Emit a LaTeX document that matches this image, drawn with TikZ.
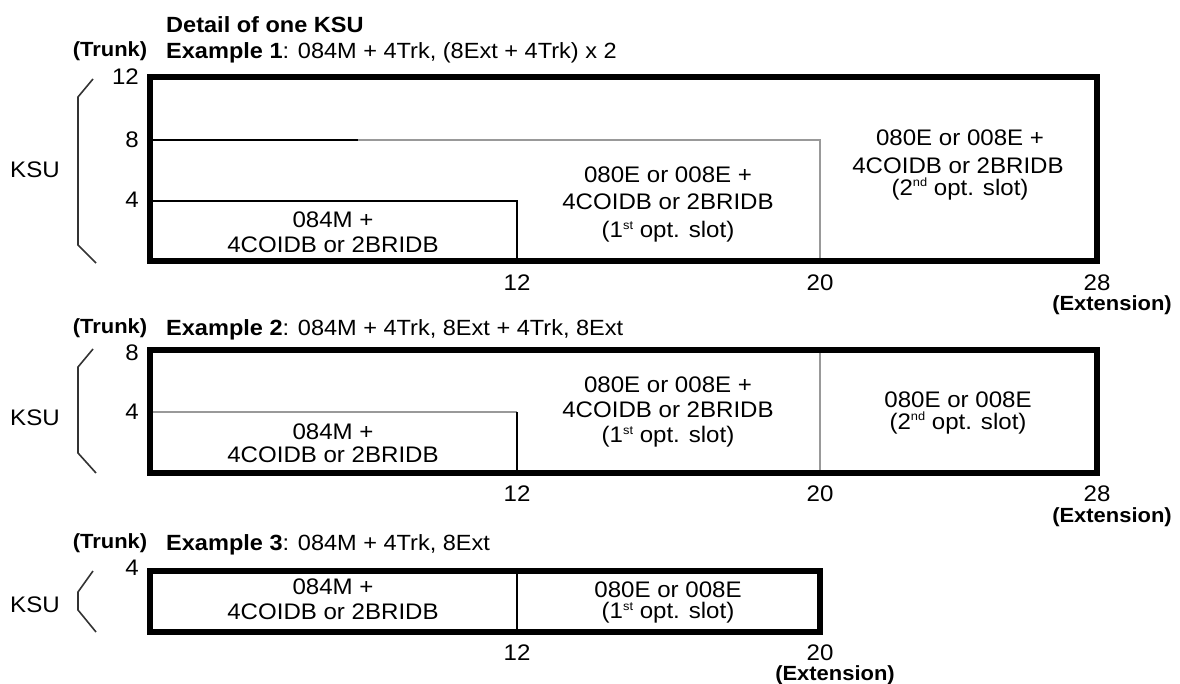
\documentclass[tikz,border=0pt]{standalone}
\usepackage{fontspec}
\setmainfont[FakeStretch=1.07]{Liberation Sans}

\newcommand{\upidx}[1]{\raisebox{0.36em}{\fontsize{12}{12}\selectfont #1}}

\tikzset{
  frame/.style={line width=5.5pt},
  cell/.style={line width=1.4pt},
  cellgrey/.style={line width=1.6pt, draw=black!40},
  brace/.style={line width=1.6pt, draw=black!80},
  txt/.style={inner sep=0pt, font=\fontsize{22.5}{26}\selectfont},
  bold/.style={inner sep=0pt, font=\fontsize{20.5}{24}\selectfont\bfseries},
  headline/.style={inner sep=0pt, anchor=west, font=\fontsize{22}{26}\selectfont},
}

\begin{document}
\begin{tikzpicture}[x=1pt, y=-1pt]
  \useasboundingbox (0,0) rectangle (1180,684);

  \node[headline, font=\fontsize{22}{26}\selectfont\bfseries] (title) at (166, 25) {Detail of one KSU};

  \node[bold] (trunk1) at (110, 51) {(Trunk)};
  \node[headline] (ex1) at (166, 53) {\textbf{Example 1}: 084M + 4Trk, (8Ext + 4Trk) x 2};
  \node[txt, anchor=east] (y12a) at (139, 77) {12};
  \node[txt, anchor=east] (y8a) at (139, 140) {8};
  \node[txt, anchor=east] (y4a) at (139, 200) {4};
  \node[txt] (ksu1) at (35, 170) {KSU};
  \draw[brace] (93, 79) -- (78, 97) -- (78, 245) -- (96, 263);

  \draw[cell] (150, 140) -- (358, 140);
  \draw[cellgrey] (358, 140) -- (820, 140) -- (820, 261);
  \draw[cell] (150, 201) -- (517, 201) -- (517, 261);
  \draw[frame] (150, 77) rectangle (1097, 261);

  \node[txt] (m1a) at (333, 220) {084M +};
  \node[txt] (m1b) at (333, 245) {4COIDB or 2BRIDB};
  \node[txt] (s1a) at (668, 175) {080E or 008E +};
  \node[txt] (s1b) at (668, 202) {4COIDB or 2BRIDB};
  \node[txt] (s1c) at (668, 232) {(1\upidx{st} opt. slot)};
  \node[txt] (r1a) at (960, 138) {080E or 008E +};
  \node[txt] (r1b) at (958, 166) {4COIDB or 2BRIDB};
  \node[txt] (r1c) at (960, 189) {(2\upidx{nd} opt. slot)};

  \node[txt] (x12a) at (517, 283) {12};
  \node[txt] (x20a) at (820, 283) {20};
  \node[txt] (x28a) at (1097, 283) {28};
  \node[bold] (ext1) at (1112, 305) {(Extension)};

  \node[bold] (trunk2) at (110, 328) {(Trunk)};
  \node[headline] (ex2) at (166, 330) {\textbf{Example 2}: 084M + 4Trk, 8Ext + 4Trk, 8Ext};
  \node[txt, anchor=east] (y8b) at (139, 353) {8};
  \node[txt, anchor=east] (y4b) at (139, 412) {4};
  \node[txt] (ksu2) at (35, 418) {KSU};
  \draw[brace] (93, 349) -- (78, 367) -- (78, 453) -- (96, 473);

  \draw[cellgrey] (150, 412) -- (517, 412);
  \draw[cell] (517, 412) -- (517, 473);
  \draw[cellgrey] (820, 350) -- (820, 473);
  \draw[frame] (150, 350) rectangle (1097, 473);

  \node[txt] (m2a) at (333, 432) {084M +};
  \node[txt] (m2b) at (333, 455) {4COIDB or 2BRIDB};
  \node[txt] (s2a) at (668, 385) {080E or 008E +};
  \node[txt] (s2b) at (668, 410) {4COIDB or 2BRIDB};
  \node[txt] (s2c) at (668, 437) {(1\upidx{st} opt. slot)};
  \node[txt] (r2a) at (958, 400) {080E or 008E};
  \node[txt] (r2b) at (958, 423) {(2\upidx{nd} opt. slot)};

  \node[txt] (x12b) at (517, 494) {12};
  \node[txt] (x20b) at (820, 494) {20};
  \node[txt] (x28b) at (1097, 494) {28};
  \node[bold] (ext2) at (1112, 517) {(Extension)};

  \node[bold] (trunk3) at (110, 543) {(Trunk)};
  \node[headline] (ex3) at (166, 545) {\textbf{Example 3}: 084M + 4Trk, 8Ext};
  \node[txt, anchor=east] (y4c) at (139, 568) {4};
  \node[txt] (ksu3) at (35, 605) {KSU};
  \draw[brace] (93, 571) -- (78, 592) -- (78, 610) -- (96, 632);

  \draw[cell] (517, 571) -- (517, 632);
  \draw[frame] (150, 571) rectangle (820, 632);

  \node[txt] (m3a) at (333, 587) {084M +};
  \node[txt] (m3b) at (333, 612) {4COIDB or 2BRIDB};
  \node[txt] (s3a) at (668, 590) {080E or 008E};
  \node[txt] (s3b) at (668, 613) {(1\upidx{st} opt. slot)};

  \node[txt] (x12c) at (517, 653) {12};
  \node[txt] (x20c) at (820, 653) {20};
  \node[bold] (ext3) at (835, 675) {(Extension)};
\end{tikzpicture}
\end{document}
